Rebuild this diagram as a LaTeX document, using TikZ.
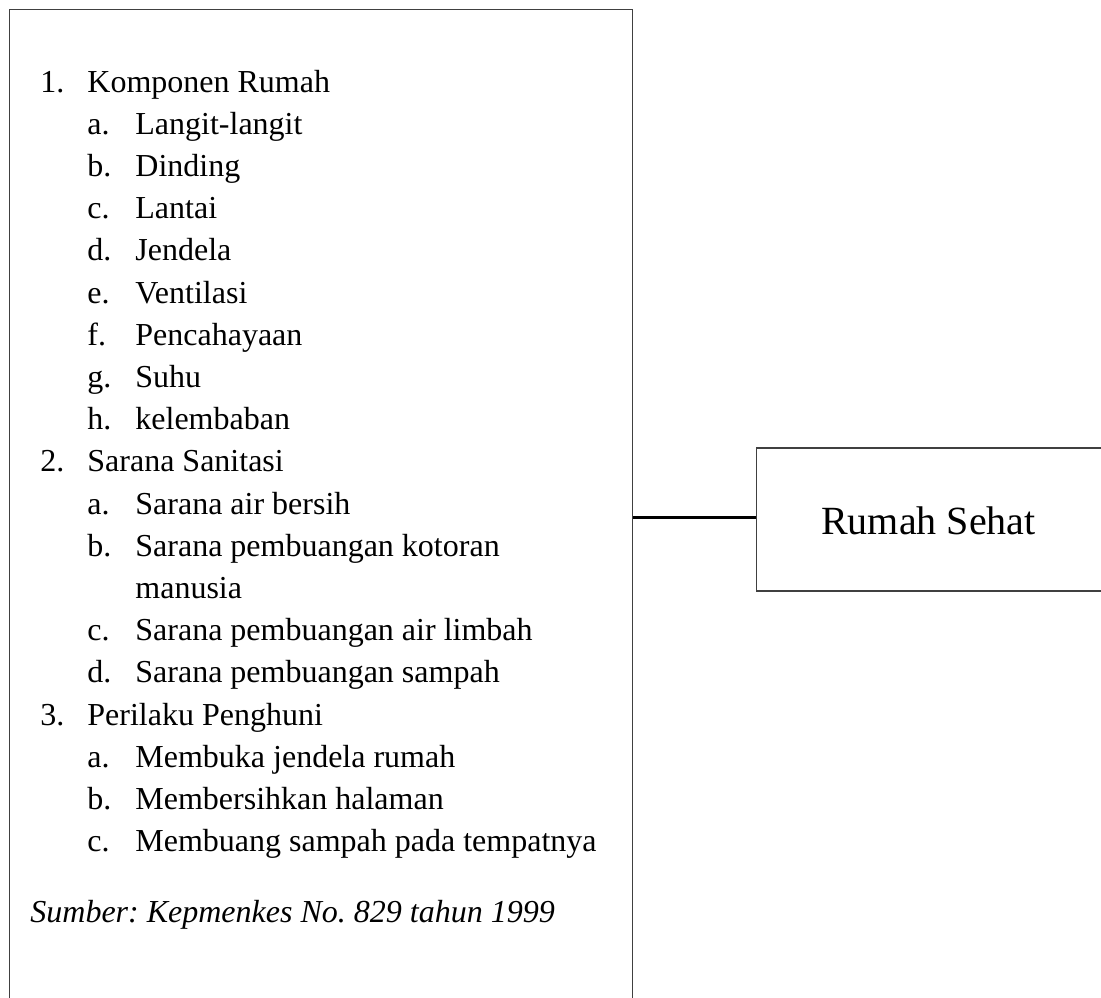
\documentclass[tikz,border=0pt]{standalone}
\usepackage{fontspec}
\setmainfont{Liberation Serif}
\frenchspacing
\begin{document}
\begin{tikzpicture}[x=0.5pt,y=-0.5pt,
  boxline/.style={draw=black!75, line width=0.7pt},
  txt/.style={anchor=base west, inner sep=0pt, font=\fontsize{16}{19}\selectfont},
  conn/.style={draw=black, line width=1.3pt}]
\useasboundingbox (0,0) rectangle (1101,997);
\clip (0,0) rectangle (1101,997);
% left box (bottom edge lies below the picture)
\node[boxline, rectangle, inner sep=0pt, minimum width=623.2*0.5pt, minimum height=1016*0.5pt] (list) at (321.1,517.7) {};
% right box (right edge lies beyond the picture)
\node[boxline, rectangle, inner sep=0pt, minimum width=370*0.5pt, minimum height=143*0.5pt, anchor=west] (rs) at (755.7,519.5) {};
\node[anchor=base, inner sep=0pt, font=\fontsize{20}{24}\selectfont] (rstext) at (928.4,534) {Rumah Sehat};
\draw[conn] (list.east) -- (list.east -| rs.west);
% list
\node[txt] (n1) at (40,92.0) {1.};
\node[txt] (t1) at (87,92.0) {Komponen Rumah};
\node[txt] (n1a) at (87,134.2) {a.};
\node[txt] (t1a) at (135,134.2) {Langit-langit};
\node[txt] (n1b) at (87,176.4) {b.};
\node[txt] (t1b) at (135,176.4) {Dinding};
\node[txt] (n1c) at (87,218.6) {c.};
\node[txt] (t1c) at (135,218.6) {Lantai};
\node[txt] (n1d) at (87,260.8) {d.};
\node[txt] (t1d) at (135,260.8) {Jendela};
\node[txt] (n1e) at (87,303.0) {e.};
\node[txt] (t1e) at (135,303.0) {Ventilasi};
\node[txt] (n1f) at (87,345.2) {f.};
\node[txt] (t1f) at (135,345.2) {Pencahayaan};
\node[txt] (n1g) at (87,387.4) {g.};
\node[txt] (t1g) at (135,387.4) {Suhu};
\node[txt] (n1h) at (87,429.6) {h.};
\node[txt] (t1h) at (135,429.6) {kelembaban};
\node[txt] (n2) at (40,471.8) {2.};
\node[txt] (t2) at (87,471.8) {Sarana Sanitasi};
\node[txt] (n2a) at (87,514.0) {a.};
\node[txt] (t2a) at (135,514.0) {Sarana air bersih};
\node[txt] (n2b) at (87,556.2) {b.};
\node[txt] (t2b) at (135,556.2) {Sarana pembuangan kotoran};
\node[txt] (t2b2) at (135,598.4) {manusia};
\node[txt] (n2c) at (87,640.6) {c.};
\node[txt] (t2c) at (135,640.6) {Sarana pembuangan air limbah};
\node[txt] (n2d) at (87,682.8) {d.};
\node[txt] (t2d) at (135,682.8) {Sarana pembuangan sampah};
\node[txt] (n3) at (40,725.0) {3.};
\node[txt] (t3) at (87,725.0) {Perilaku Penghuni};
\node[txt] (n3a) at (87,767.2) {a.};
\node[txt] (t3a) at (135,767.2) {Membuka jendela rumah};
\node[txt] (n3b) at (87,809.4) {b.};
\node[txt] (t3b) at (135,809.4) {Membersihkan halaman};
\node[txt] (n3c) at (87,851.6) {c.};
\node[txt] (t3c) at (135,851.6) {Membuang sampah pada tempatnya};
\node[txt, font=\fontsize{16}{19}\selectfont\itshape] (src) at (30,922) {Sumber: Kepmenkes No. 829 tahun 1999};
\end{tikzpicture}
\end{document}
